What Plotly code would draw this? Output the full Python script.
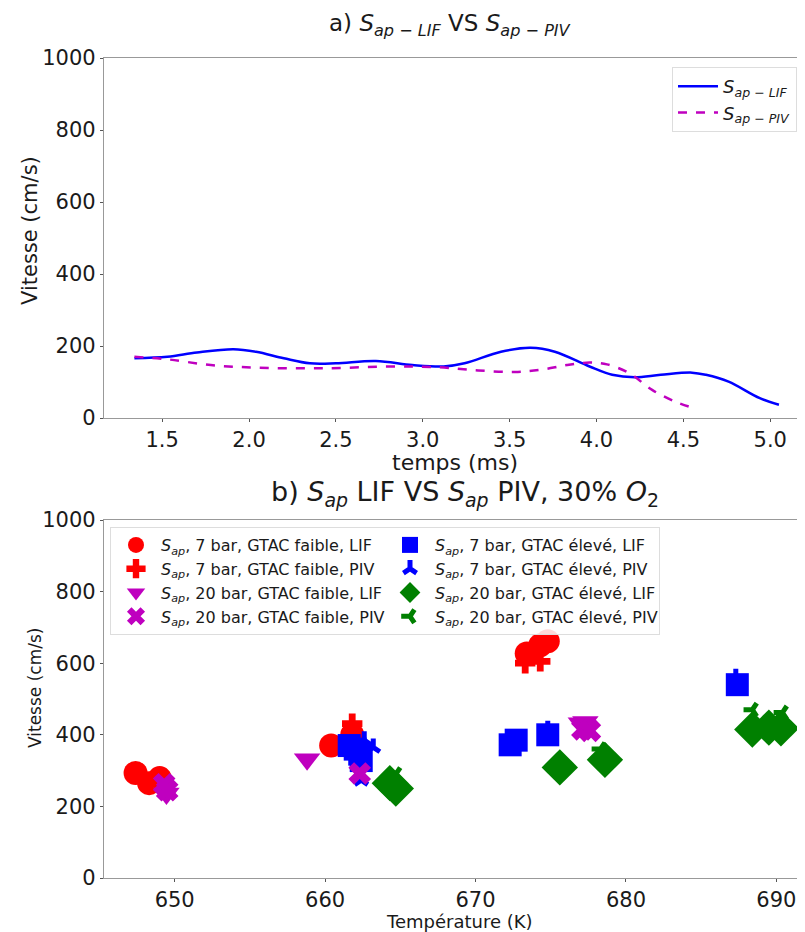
import plotly.graph_objects as go

# ---------- Panel a data ----------
t_lif = [1.34, 1.53, 1.70, 1.91, 2.04, 2.20, 2.35, 2.50, 2.73, 2.94, 3.12, 3.24, 3.45, 3.62, 3.76, 3.96, 4.09, 4.22, 4.37, 4.55, 4.63, 4.76, 4.94, 5.05]
v_lif = [166, 170, 182, 191, 184, 166, 152, 152, 158, 147, 143, 152, 184, 195, 184, 143, 120, 113, 120, 126, 120, 101, 55, 37]
t_piv = [1.34, 1.53, 1.78, 2.04, 2.42, 2.81, 3.09, 3.32, 3.53, 3.68, 3.83, 3.96, 4.06, 4.19, 4.32, 4.45, 4.55]
v_piv = [170, 163, 147, 140, 138, 143, 141, 132, 128, 134, 147, 154, 149, 124, 78, 46, 29]

# ---------- Panel b data ----------
T_7f_lif = [647.4, 648.3, 649.0, 660.4, 661.8, 673.4, 674.3, 674.8]
V_7f_lif = [293, 265, 279, 370, 400, 627, 650, 661]
T_7f_piv = [661.8, 673.3, 674.3]
V_7f_piv = [431, 600, 605]
T_20f_lif = [649.45, 658.8, 677.0, 677.3]
V_20f_lif = [236, 332, 432, 436]
T_20f_piv = [649.3, 649.5, 662.3, 677.1, 677.6]
V_20f_piv = [262, 245, 292, 415, 411]
T_7e_lif = [661.6, 662.0, 662.3, 662.4, 672.3, 672.7, 674.8, 687.4]
V_7e_lif = [370, 360, 346, 328, 372, 385, 400, 540]
T_7e_piv = [662.4, 663.2, 662.6, 672.6, 674.8, 687.3]
V_7e_piv = [273, 365, 385, 390, 415, 560]
T_20e_lif = [664.3, 664.7, 675.6, 678.6, 688.4, 689.5, 690.3]
V_20e_lif = [265, 250, 309, 330, 415, 420, 418]
T_20e_piv = [664.7, 678.3, 688.4, 690.4]
V_20e_piv = [290, 360, 470, 462]

RED = "#ff0000"
BLUE = "#0000ff"
GREEN = "#008000"
MAG = "#bf00bf"

# page body has an 8px margin: work in screenshot pixels, shift by OFF
OFF = 8
W, H = 805 - OFF, 932 - OFF
ML, MR, MT, MB = 104 - OFF, 0, 58 - OFF, 932 - 878
PH = H - MT - MB
PW = W - ML - MR


def py(sy):
    return (H - MB - (sy - OFF)) / PH


def px(sx):
    return (sx - OFF - ML) / PW


fig = go.Figure()

fig.add_trace(go.Scatter(
    x=t_lif, y=v_lif, mode="lines", line=dict(color=BLUE, width=2.5, shape="spline"),
    name="<i>S</i><sub><i>ap − LIF</i></sub>", xaxis="x", yaxis="y", legend="legend"))
fig.add_trace(go.Scatter(
    x=t_piv, y=v_piv, mode="lines", line=dict(color=MAG, width=2.5, dash="dash", shape="spline"),
    name="<i>S</i><sub><i>ap − PIV</i></sub>", xaxis="x", yaxis="y", legend="legend"))

S = "<i>S</i><sub><i>ap</i></sub>"
series = [
    (T_7f_lif, V_7f_lif, "circle", RED, 24, f"{S}, 7 bar, GTAC faible, LIF"),
    (T_7e_lif, V_7e_lif, "square", BLUE, 23, f"{S}, 7 bar, GTAC élevé, LIF"),
    (T_7f_piv, V_7f_piv, "cross", RED, 17, f"{S}, 7 bar, GTAC faible, PIV"),
    (T_7e_piv, V_7e_piv, "y-up", BLUE, 11, f"{S}, 7 bar, GTAC élevé, PIV"),
    (T_20f_lif, V_20f_lif, "triangle-down", MAG, 23, f"{S}, 20 bar, GTAC faible, LIF"),
    (T_20e_lif, V_20e_lif, "diamond", GREEN, 28, f"{S}, 20 bar, GTAC élevé, LIF"),
    (T_20f_piv, V_20f_piv, "x", MAG, 20, f"{S}, 20 bar, GTAC faible, PIV"),
    (T_20e_piv, V_20e_piv, "y-left", GREEN, 11, f"{S}, 20 bar, GTAC élevé, PIV"),
]
for xs, ys, sym, col, size, name in series:
    if sym.startswith("y-"):
        mk = dict(symbol=sym, size=size, color=col, line=dict(color=col, width=5))
    else:
        mk = dict(symbol=sym, size=size, color=col, line=dict(width=0))
    fig.add_trace(go.Scatter(x=xs, y=ys, mode="markers", marker=mk, name=name,
                             xaxis="x2", yaxis="y2", legend="legend2"))

axis_common = dict(showgrid=False, zeroline=False, showline=True, linecolor="#999999",
                   linewidth=1.2, ticks="outside", ticklen=3, tickcolor="#555555",
                   automargin=False, tickfont=dict(size=21, color="#1a1a1a"))

fig.update_layout(
    width=W, height=H,
    margin=dict(l=ML, r=MR, t=MT, b=MB),
    paper_bgcolor="white", plot_bgcolor="white",
    font=dict(family="DejaVu Sans", color="#1a1a1a"),
    xaxis=dict(domain=[0, 1], anchor="y", range=[1.165, 5.2], dtick=0.5, tick0=1.5,
               tickformat=".1f", mirror=True, **axis_common),
    yaxis=dict(domain=[py(418), 1], anchor="x", range=[0, 1000], dtick=200, **axis_common),
    xaxis2=dict(domain=[0, 1], anchor="y2", range=[645.3, 691.9], dtick=10, mirror=True,
                **axis_common),
    yaxis2=dict(domain=[0, py(520)], anchor="x2", range=[0, 1000], dtick=200, **axis_common),
    legend=dict(x=px(672), y=py(67), xanchor="left", yanchor="top",
                bgcolor="white", bordercolor="#dddddd", borderwidth=1,
                font=dict(size=18), tracegroupgap=4, itemwidth=40),
    legend2=dict(x=px(110), y=py(527), xanchor="left", yanchor="top",
                 orientation="h", entrywidth=219, entrywidthmode="pixels", itemwidth=40,
                 bgcolor="rgba(255,255,255,0.85)", bordercolor="#dddddd", borderwidth=1,
                 font=dict(size=16)),
    showlegend=True,
    annotations=[
        dict(text="a) <i>S</i><sub><i>ap − LIF</i></sub> VS <i>S</i><sub><i>ap − PIV</i></sub>",
             x=px(450), y=py(25), xref="paper", yref="paper", showarrow=False,
             xanchor="center", yanchor="middle", font=dict(size=23)),
        dict(text="b) <i>S</i><sub><i>ap</i></sub> LIF VS <i>S</i><sub><i>ap</i></sub> PIV, 30% <i>O</i><sub>2</sub>",
             x=px(465), y=py(493), xref="paper", yref="paper", showarrow=False,
             xanchor="center", yanchor="middle", font=dict(size=27)),
        # axis titles
        dict(text="temps (ms)", x=px(455), y=py(462), xref="paper", yref="paper",
             showarrow=False, xanchor="center", yanchor="middle", font=dict(size=22)),
        dict(text="Vitesse (cm/s)", x=px(30), y=py(231), xref="paper", yref="paper",
             showarrow=False, xanchor="center", yanchor="middle", textangle=-90,
             font=dict(size=21)),
        dict(text="Température (K)", x=px(459), y=py(921), xref="paper", yref="paper",
             showarrow=False, xanchor="center", yanchor="middle", font=dict(size=18)),
        dict(text="Vitesse (cm/s)", x=px(35), y=py(688), xref="paper", yref="paper",
             showarrow=False, xanchor="center", yanchor="middle", textangle=-90,
             font=dict(size=17)),
    ],
)

fig.write_html("out.html")
